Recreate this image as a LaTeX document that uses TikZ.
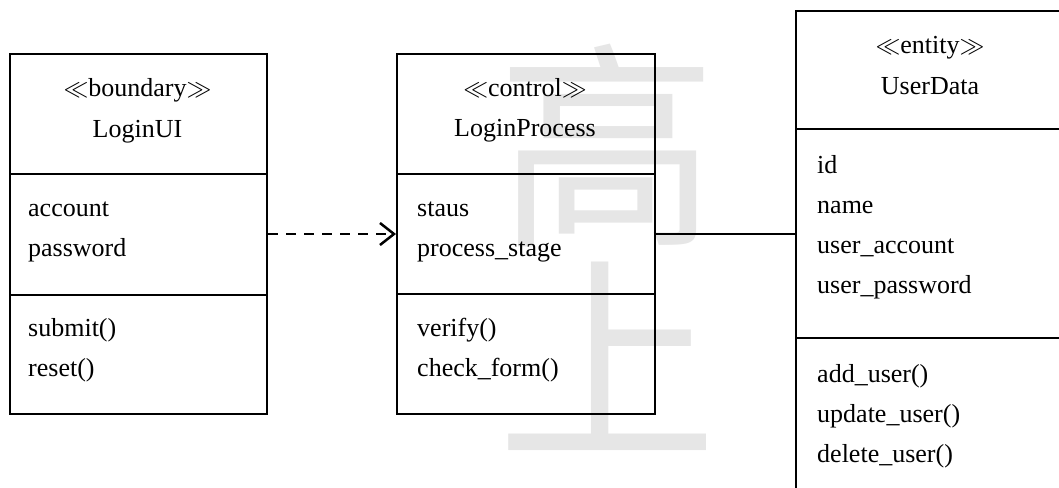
\documentclass[tikz,border=0pt]{standalone}
\usepackage{fontspec}
\setmainfont{Liberation Serif}
\newfontfamily\cjk{Noto Sans CJK SC}
\usetikzlibrary{arrows.meta}
\definecolor{wm}{HTML}{E6E6E6}
\tikzset{
  classbox/.style={draw, line width=2pt, inner sep=0pt, anchor=north west},
  divider/.style={line width=2pt},
  lbl/.style={inner sep=0pt, anchor=base west, font=\fontsize{26}{39}\selectfont},
  hdr/.style={inner sep=0pt, anchor=base, font=\fontsize{26}{39}\selectfont},
  wmark/.style={inner sep=0pt, text=wm, font=\cjk\fontsize{220}{220}\selectfont},
  conn/.style={line width=2pt}
}
\newcommand{\stereo}[1]{$\ll$#1$\gg$}
\begin{document}
\begin{tikzpicture}[x=1pt,y=-1pt]
\useasboundingbox (0,0) rectangle (1059,487);
\fill[white] (0,0) rectangle (1059,487);
% watermark
\node[wmark] (w1) at (607,145) {高};
\node[wmark] (w2) at (607,356) {上};
% box 1
\node[classbox, minimum width=257pt, minimum height=360pt] (b1) at (9,53) {};
\draw[divider] (9,174) -- (266,174);
\draw[divider] (9,295) -- (266,295);
\node[hdr] (b1s) at (137.5,96.5) {\stereo{boundary}};
\node[hdr] (b1n) at (137.5,137) {LoginUI};
\node[lbl] (b1a1) at (28,216.5) {account};
\node[lbl] (b1a2) at (28,256) {password};
\node[lbl] (b1m1) at (28,336.5) {submit()};
\node[lbl] (b1m2) at (28,376) {reset()};
% box 2
\node[classbox, minimum width=258pt, minimum height=360pt] (b2) at (396,53) {};
\draw[divider] (396,174) -- (654,174);
\draw[divider] (396,294) -- (654,294);
\node[hdr] (b2s) at (525,96.5) {\stereo{control}};
\node[hdr] (b2n) at (525,136.5) {LoginProcess};
\node[lbl] (b2a1) at (417,216.5) {staus};
\node[lbl] (b2a2) at (417,256) {process\_stage};
\node[lbl] (b2m1) at (417,336.5) {verify()};
\node[lbl] (b2m2) at (417,376) {check\_form()};
% box 3
\node[classbox, minimum width=271pt, minimum height=490pt] (b3) at (795,10) {};
\draw[divider] (795,129) -- (1066,129);
\draw[divider] (795,338) -- (1066,338);
\node[hdr] (b3s) at (930,54) {\stereo{entity}};
\node[hdr] (b3n) at (930,94) {UserData};
\node[lbl] (b3a1) at (817,173) {id};
\node[lbl] (b3a2) at (817,213.5) {name};
\node[lbl] (b3a3) at (817,253.5) {user\_account};
\node[lbl] (b3a4) at (817,293.5) {user\_password};
\node[lbl] (b3m1) at (817,382.5) {add\_user()};
\node[lbl] (b3m2) at (817,422.5) {update\_user()};
\node[lbl] (b3m3) at (817,462.5) {delete\_user()};
% connectors
\draw[conn, dash pattern=on 10pt off 8pt, -{Straight Barb[length=14pt,width=22pt,line width=2.5pt]}] (b1.east) -- (b2.west);
\draw[conn] (b2.east) -- (b2.east -| b3.west);
\end{tikzpicture}
\end{document}
